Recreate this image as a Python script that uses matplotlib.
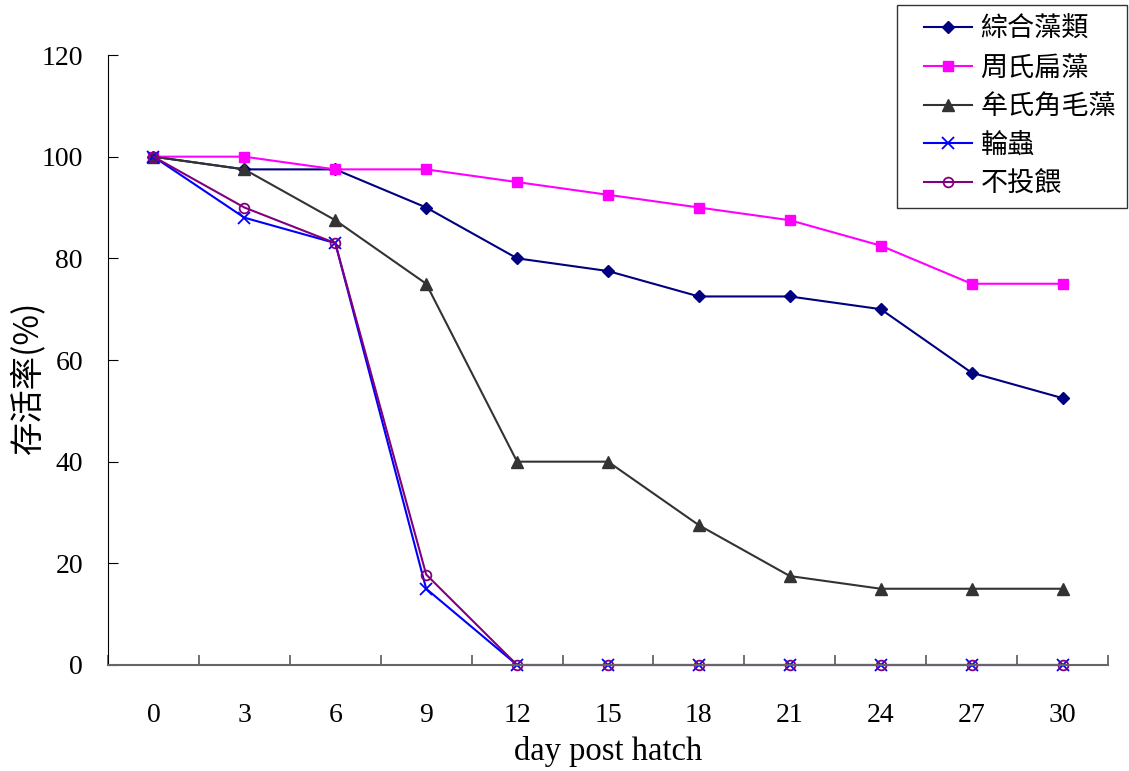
import matplotlib
matplotlib.use("Agg")
import matplotlib.pyplot as plt
from matplotlib.legend_handler import HandlerLine2D

days = [0, 3, 6, 9, 12, 15, 18, 21, 24, 27, 30]
names = ["綜合藻類", "周氏扁藻", "牟氏角毛藻", "輪蟲", "不投餵"]
mixed = [100, 97.5, 97.5, 90, 80, 77.5, 72.5, 72.5, 70, 57.5, 52.5]
tetra = [100, 100, 97.5, 97.5, 95, 92.5, 90, 87.5, 82.5, 75, 75]
chaeto = [100, 97.5, 87.5, 75, 40, 40, 27.5, 17.5, 15, 15, 15]
rotifer = [100, 88, 83, 15, 0, 0, 0, 0, 0, 0, 0]
unfed = [100, 90, 83, 17.8, 0, 0, 0, 0, 0, 0, 0]

serif = ["Liberation Serif", "DejaVu Serif"]
cjk = ["Noto Sans CJK TC", "Liberation Serif", "DejaVu Sans"]


class ShortLine(HandlerLine2D):
    def get_xdata(self, legend, xdescent, ydescent, width, height, fontsize):
        start = -xdescent + 0.25 * width
        end = -xdescent + width
        return [start, end], [(start + end) / 2]


fig = plt.figure(figsize=(11.29, 7.71), dpi=100)
ax = fig.add_axes([108/1129, 1-665/771, 1000/1129, 610/771])

x = list(range(len(days)))
styles = [
    (mixed, "#000080", dict(marker="D", markersize=6.5, markerfacecolor="#000080", markeredgecolor="#000080")),
    (tetra, "#FF00FF", dict(marker="s", markersize=7, markerfacecolor="#FF00FF", markeredgecolor="#FF00FF")),
    (chaeto, "#333333", dict(marker="^", markersize=8, markerfacecolor="#333333", markeredgecolor="#333333")),
    (rotifer, "#0000FF", dict(marker="x", markersize=8, markeredgewidth=1.3, markeredgecolor="#0000FF")),
    (unfed, "#800080", dict(marker="o", markersize=7, markerfacecolor="none", markeredgecolor="#800080", markeredgewidth=1.3)),
]
handles = []
for (vals, col, kw), name in zip(styles, names):
    h, = ax.plot(x, vals, color=col, linewidth=1.5, label=name, clip_on=False, **kw)
    handles.append(h)

ax.set_xlim(-0.5, len(days) - 0.5)
ax.set_ylim(0, 120)
ax.set_yticks(range(0, 121, 20))
ax.set_xticks(x)
ax.set_xticklabels([str(d) for d in days])
ax.set_xticks([i + 0.5 for i in range(-1, len(days))], minor=True)
ax.tick_params(axis="x", which="major", length=0, pad=27)
ax.tick_params(axis="x", which="minor", direction="in", length=7, width=1.3, color="#666666")
ax.tick_params(axis="y", direction="in", length=7, pad=18)
for lab in ax.get_xticklabels() + ax.get_yticklabels():
    lab.set_fontfamily(serif)
    lab.set_fontsize(20)

ax.spines["top"].set_visible(False)
ax.spines["right"].set_visible(False)
ax.spines["bottom"].set_color("#666666")
ax.spines["bottom"].set_linewidth(1.5)
ax.spines["left"].set_color("#000000")

ax.set_xlabel("day post hatch", fontfamily=serif, fontsize=23.5, labelpad=6)
ax.set_ylabel("存活率(%)", fontfamily=cjk, fontsize=24)
ax.yaxis.set_label_coords(-0.063, 0.472)

leg = fig.legend(handles=handles, loc="upper right", bbox_to_anchor=(1127/1129, 1-5/771),
                 prop={"family": cjk, "size": 19.5}, frameon=True, fancybox=False,
                 edgecolor="#000000", handlelength=2.37, labelspacing=0.43,
                 borderpad=0.4, handletextpad=0.3, borderaxespad=0,
                 handler_map={h: ShortLine() for h in handles})
leg.get_frame().set_linewidth(1.0)

fig.savefig("out.png", dpi=100)
